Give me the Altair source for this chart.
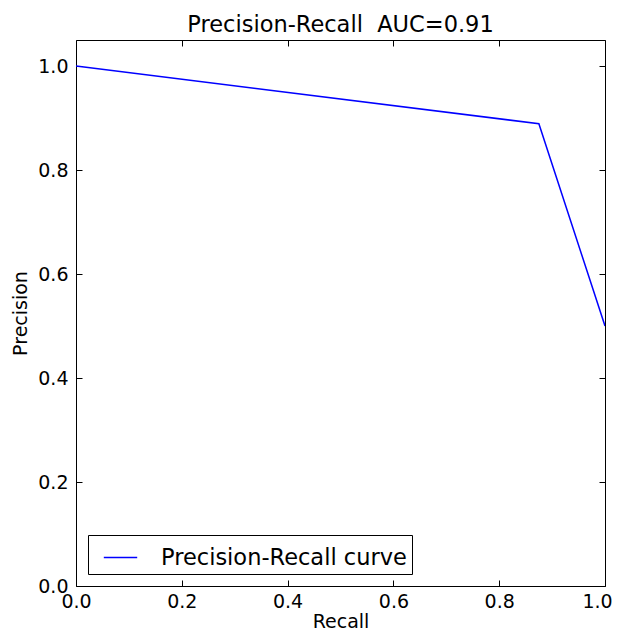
import altair as alt
import pandas as pd

recall = [0.0, 0.875, 1.0]
precision = [1.0, 0.889, 0.5]
series = ["Precision-Recall curve"] * 3
x_ticks = [0.0, 0.2, 0.4, 0.6, 0.8, 1.0]
y_ticks = [0.0, 0.2, 0.4, 0.6, 0.8, 1.0]

df = pd.DataFrame({"Recall": recall, "Precision": precision, "series": series})

FONT = "DejaVu Sans"
xs = alt.Scale(domain=[0, 1], nice=False, zero=False)
ys = alt.Scale(domain=[0, 1.05], nice=False, zero=False)

common = dict(offset=-6, tickSize=6, domain=False, grid=False, tickColor="black",
              labelColor="black", labelFont=FONT, titleFont=FONT, labelFontSize=19,
              titleFontSize=19, titleFontWeight="normal", titleColor="black",
              tickWidth=1, labelFlush=False)

x_bottom = alt.Axis(orient="bottom", values=x_ticks, format=".1f", labelPadding=6,
                    labelOffset={"condition": {"test": "datum.value > 0.99", "value": -8},
                                 "value": 0},
                    title="Recall", titlePadding=1, **common)
y_left = alt.Axis(orient="left", values=y_ticks, format=".1f", labelPadding=8,
                  title="Precision", titlePadding=7, **common)
x_top = alt.Axis(orient="top", values=x_ticks, labels=False, title=None, **common)
y_right = alt.Axis(orient="right", values=y_ticks, labels=False, title=None, **common)

main = alt.Chart(df).mark_line(strokeWidth=1.5, clip=True).encode(
    x=alt.X("Recall:Q", scale=xs, axis=x_bottom),
    y=alt.Y("Precision:Q", scale=ys, axis=y_left),
    color=alt.Color("series:N", scale=alt.Scale(range=["#0000ff"]),
                    legend=alt.Legend(orient="bottom-left", offset=12, title=None,
                                      strokeColor="black", fillColor="white",
                                      padding=5, labelFontSize=22.5, labelFont=FONT,
                                      labelColor="black", labelLimit=400,
                                      symbolType="stroke", symbolSize=1115,
                                      symbolStrokeWidth=1.5, labelOffset=23,
                                      symbolOffset=10, cornerRadius=0)),
)

frame_axes = alt.Chart(df).mark_line(strokeOpacity=0).encode(
    x=alt.X("Recall:Q", scale=xs, axis=x_top),
    y=alt.Y("Precision:Q", scale=ys, axis=y_right),
)

chart = alt.layer(main, frame_axes).resolve_axis(
    x="independent", y="independent"
).properties(
    width=529,
    height=546,
    autosize=alt.AutoSizeParams(type="none"),
    padding={"left": 68, "top": 32, "right": 8, "bottom": 46},
    title=alt.TitleParams("Precision-Recall\u00a0 AUC=0.91", fontSize=22.5,
                          fontWeight="normal", font=FONT, offset=3,
                          anchor="middle", color="black"),
).configure_view(stroke="black", strokeWidth=1)

chart.save("out.html", embed_options={"renderer": "svg", "actions": False})
